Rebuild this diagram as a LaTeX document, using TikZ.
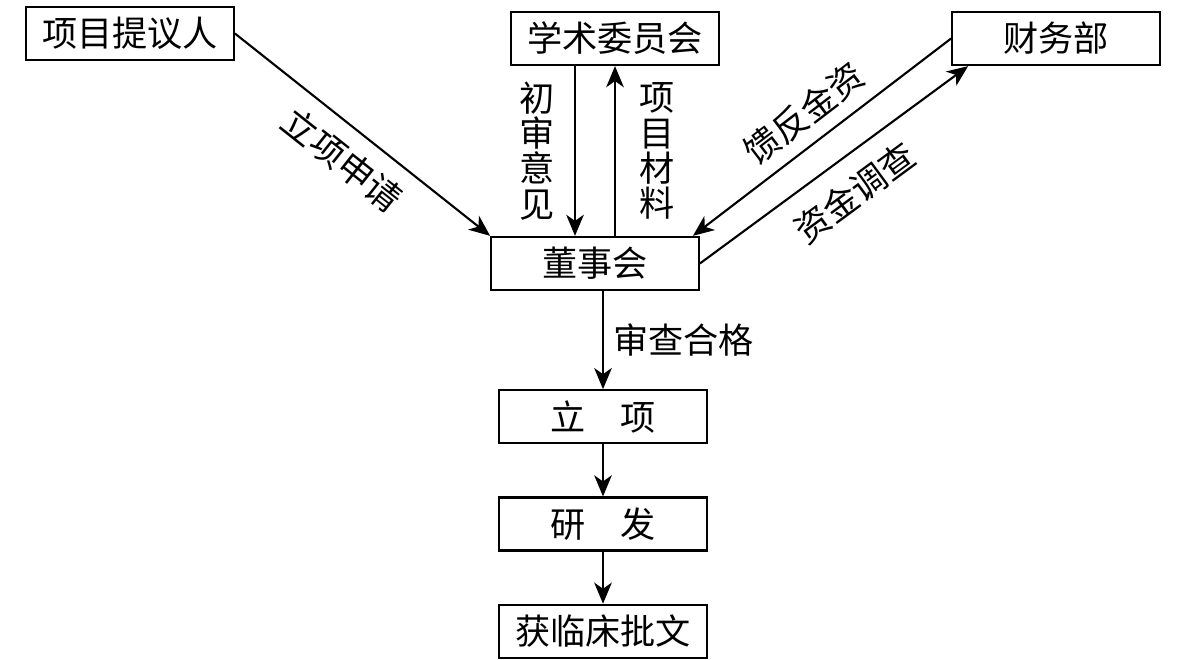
\documentclass[tikz,border=0pt]{standalone}
\usepackage{fontspec}
\setmainfont{Liberation Serif}
\newfontfamily\cjk{Noto Sans CJK SC}
\usepackage{tikz}
\usetikzlibrary{arrows.meta,positioning}

\begin{document}
\begin{tikzpicture}[
    node distance=1.04cm,
    >={Stealth[length=12pt,width=10pt,inset=3.5pt]},
    box/.style={
        draw,
        line width=1.3pt,
        minimum width=4.15cm,
        minimum height=1.06cm,
        inner sep=0pt,
        font=\cjk\fontsize{20}{20}\selectfont
    },
    lbl/.style={
        inner sep=0pt,
        align=center,
        font=\cjk\fontsize{20}{20}\selectfont
    },
    flow/.style={->,line width=1.2pt}
]

\useasboundingbox (0,0) rectangle (23.62,13.2);

\node[box] (tyr) at (2.6,12.53)
{项目提议人};

\node[box] (xsh) at (12.3,12.43)
{学术委员会};

\node[box] (cwb) at (21.12,12.43)
{财务部};

\node[box] (dsh) at (11.9,7.93)
{董事会};

\node[box,below=1.96cm of dsh,xshift=0.16cm] (lx)
{立　项};

\node[box,below=of lx] (yf)
{研　发};

\node[box,below=of yf] (pw)
{获临床批文};

\coordinate (cs) at ([xshift=-0.8cm]xsh.south);

\draw[flow] (tyr.east) -- node[lbl,sloped,below=0.3cm] {立项申请} (dsh.north west);
\draw[flow] (cs) -- node[lbl,left=0.38cm] {初\\审\\意\\见} (cs |- dsh.north);
\draw[flow] (dsh.north -| xsh.south) -- node[lbl,right=0.47cm] {项\\目\\材\\料} (xsh.south);
\draw[flow] (cwb.west) -- node[lbl,sloped,above=0.25cm] {馈反金资} ([xshift=-0.14cm]dsh.north east);
\draw[flow] (dsh.east) -- node[lbl,sloped,below=0.35cm] {资金调查} ([xshift=0.34cm]cwb.south west);
\draw[flow] (dsh.south -| lx.north) -- node[lbl,right=0.18cm] {审查合格} (lx.north);
\draw[flow] (lx) -- (yf);
\draw[flow] (yf) -- (pw);

\end{tikzpicture}
\end{document}
